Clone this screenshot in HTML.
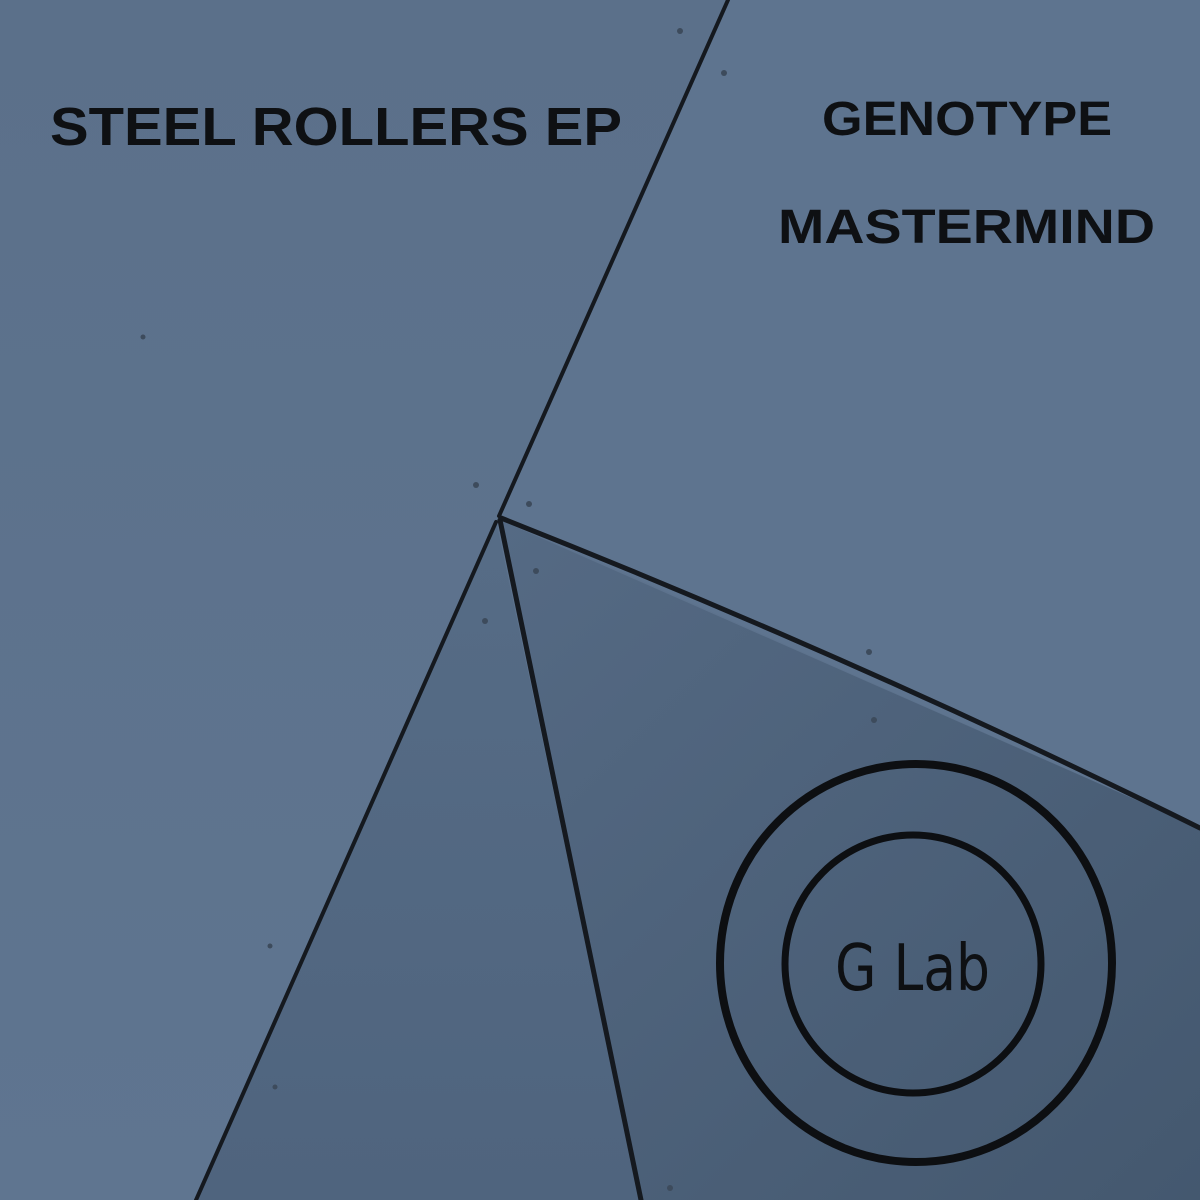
<!DOCTYPE html>
<html><head><style>html,body{margin:0;padding:0;background:#5c728c;overflow:hidden}svg{display:block}</style></head>
<body>
<svg width="1200" height="1200" viewBox="0 0 1200 1200" xmlns="http://www.w3.org/2000/svg">
<defs>
<linearGradient id="bg" x1="0" y1="0" x2="0" y2="1"><stop offset="0" stop-color="#5b708a"/><stop offset="1" stop-color="#5f7590"/></linearGradient>
<linearGradient id="br" x1="0" y1="0" x2="1" y2="1"><stop offset="0" stop-color="#556a84"/><stop offset="1" stop-color="#44586f"/></linearGradient>
<linearGradient id="bl" x1="0" y1="0" x2="0" y2="1"><stop offset="0" stop-color="#566c86"/><stop offset="1" stop-color="#4f647e"/></linearGradient>
</defs>
<rect width="1200" height="1200" fill="url(#bg)"/>
<polygon points="727,0 1200,0 1200,828 500,518" fill="#5e748f"/>
<polygon points="497,525 195,1200 640,1200" fill="url(#bl)"/>
<polygon points="500,520 1200,828 1200,1200 640,1200" fill="url(#br)"/>
<g stroke="#15191f" fill="none" stroke-linecap="round">
<line x1="728" y1="0" x2="499" y2="516" stroke-width="4"/>
<line x1="496" y1="522" x2="196" y2="1200" stroke-width="4"/>
<line x1="500" y1="520" x2="641" y2="1200" stroke-width="5"/>
<path d="M501,518 Q860,660 1200,828" stroke-width="5"/>
<ellipse cx="916" cy="963" rx="196" ry="199" stroke="#0d0f12" stroke-width="8"/>
<ellipse cx="913" cy="964" rx="128" ry="129" stroke="#0d0f12" stroke-width="7"/>
</g>
<g fill="#3d4b5c">
<circle cx="680" cy="31" r="3"/><circle cx="724" cy="73" r="3"/><circle cx="143" cy="337" r="2.5"/>
<circle cx="476" cy="485" r="3"/><circle cx="529" cy="504" r="3"/><circle cx="536" cy="571" r="3"/>
<circle cx="485" cy="621" r="3"/><circle cx="869" cy="652" r="3"/><circle cx="874" cy="720" r="3"/>
<circle cx="270" cy="946" r="2.5"/><circle cx="275" cy="1087" r="2.5"/><circle cx="670" cy="1188" r="3"/>
</g>
<g font-family="Liberation Sans, sans-serif" font-weight="bold" fill="#0e1013">
<text x="50" y="145" font-size="54" textLength="572" lengthAdjust="spacingAndGlyphs">STEEL ROLLERS EP</text>
<text x="822" y="135" font-size="48" textLength="290" lengthAdjust="spacingAndGlyphs">GENOTYPE</text>
<text x="778" y="243" font-size="48" textLength="377" lengthAdjust="spacingAndGlyphs">MASTERMIND</text>
</g>
<text x="835" y="990" font-family="DejaVu Sans Condensed, Liberation Sans Narrow, sans-serif" font-size="64" fill="#0e1013" textLength="155" lengthAdjust="spacingAndGlyphs">G Lab</text>
</svg>
</body></html>
